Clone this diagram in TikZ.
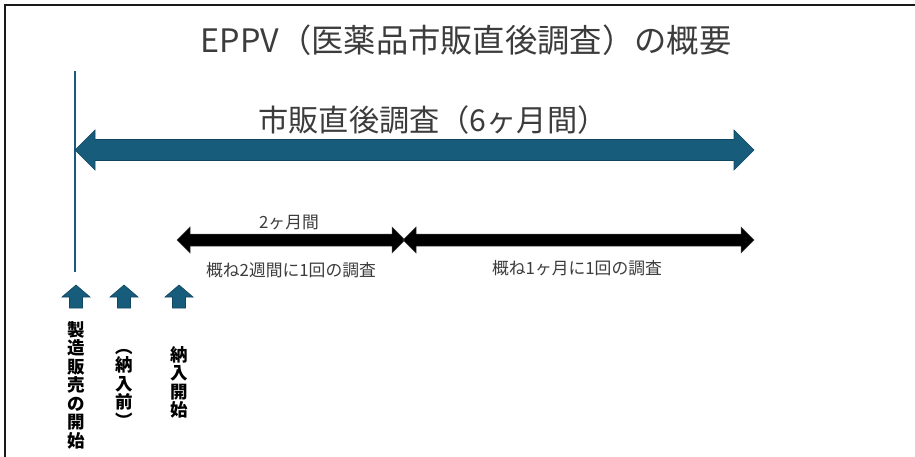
\documentclass[tikz,border=0pt]{standalone}
\usepackage{fontspec}
\setmainfont{Noto Sans CJK JP}
\definecolor{tealblue}{RGB}{24,92,124}
\definecolor{tealedge}{RGB}{18,70,96}
\definecolor{txtgray}{RGB}{60,60,60}
\begin{document}
\begin{tikzpicture}[x=1pt,y=-1pt,
  frame/.style={draw=black!90,line width=2pt},
  bluefill/.style={fill=tealblue,draw=tealedge,line width=0.6pt,line join=miter},
  blackfill/.style={fill=black,draw=black!75,line width=0.5pt,line join=miter},
  title/.style={text=txtgray,font=\fontsize{32.3}{38}\selectfont,inner sep=0pt},
  subtitle/.style={text=txtgray,font=\fontsize{30.2}{36}\selectfont,inner sep=0pt},
  small/.style={text=txtgray,font=\fontsize{16.8}{19}\selectfont,inner sep=0pt},
  vlabel/.style={text=black,font=\bfseries\fontsize{17.5}{18.5}\selectfont,inner sep=0pt,align=center,anchor=north}
]
\useasboundingbox (0,0) rectangle (915,457);
\fill[white] (0,0) rectangle (915,457);
% frame (top and left)
\coordinate (ftr) at (915,5);
\coordinate (ftl) at (4.5,5);
\coordinate (fbl) at (4.5,457);
\draw[frame] (ftr) -- (ftl) -- (fbl);

% title
\node[title] (title) at (466,40) {EPPV（医薬品市販直後調査）の概要};

% vertical start line
\coordinate (vtop) at (75,71);
\coordinate (vbot) at (75,272);
\draw[tealblue,line width=2pt] (vtop) -- (vbot);

% big arrow
\node[subtitle] (sub) at (433,120) {市販直後調査（6ヶ月間）};
\coordinate (bigL) at (75,150);
\coordinate (bigR) at (754,150);
\draw[bluefill] (bigL) -- ++(20,-20) -- ++(0,9.5) -- ++(639,0) -- ++(0,-9.5) -- (bigR)
  -- ++(-20,20) -- ++(0,-9.5) -- ++(-639,0) -- ++(0,9.5) -- cycle;

% black arrows
\node[small] (two) at (289,222) {2ヶ月間};
\coordinate (b1L) at (177,240);
\coordinate (b1R) at (405,240);
\coordinate (b2L) at (403,240);
\coordinate (b2R) at (754,240);
\draw[blackfill] (b1L) -- ++(13,-13) -- ++(0,7) -- ++(202,0) -- ++(0,-7) -- (b1R)
  -- ++(-13,13) -- ++(0,-7) -- ++(-202,0) -- ++(0,7) -- cycle;
\draw[blackfill] (b2L) -- ++(13,-13) -- ++(0,7) -- ++(325,0) -- ++(0,-7) -- (b2R)
  -- ++(-13,13) -- ++(0,-7) -- ++(-325,0) -- ++(0,7) -- cycle;
\node[small] (l1) at (291,270) {概ね2週間に1回の調査};
\node[small] (l2) at (577,268) {概ね1ヶ月に1回の調査};

% up arrows
\coordinate (u1) at (76,285);
\coordinate (u2) at (124,285);
\coordinate (u3) at (179,285);
\foreach \u in {u1,u2,u3}
  \draw[bluefill] (\u) -- ++(14,12) -- ++(-7.5,0) -- ++(0,11) -- ++(-13,0) -- ++(0,-11) -- ++(-7.5,0) -- cycle;

% vertical labels
\node[vlabel] (v1) at (76,321) {製\\造\\販\\売\\の\\開\\始};
\node[vlabel] (v2) at (124,349) {︵\\納\\入\\前\\︶};
\node[vlabel] (v3) at (179,346) {納\\入\\開\\始};
\end{tikzpicture}
\end{document}
